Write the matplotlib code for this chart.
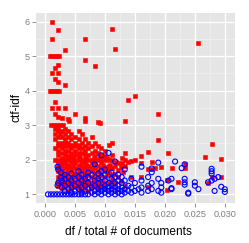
import matplotlib
matplotlib.use("Agg")
import matplotlib.pyplot as plt

# red squares: terms (ctf-idf vs df / total # of documents)
red_x = [
    0.0011, 0.0022, 0.0011, 0.0067, 0.0111, 0.0117, 0.0033, 0.0256,
    0.0008, 0.0012, 0.0016, 0.0020, 0.0024,
    0.0067, 0.0083, 0.0022, 0.0017, 0.0011, 0.0022, 0.0017, 0.0022, 0.0033,
    0.0008, 0.0012, 0.0016, 0.0020, 0.0024,
    0.0150, 0.0139, 0.0017, 0.0011, 0.0022, 0.0033, 0.0017, 0.0189, 0.0050,
    0.0022, 0.0028, 0.0039, 0.0067, 0.0067, 0.0133, 0.0092, 0.0089, 0.0040,
    0.0010, 0.0015, 0.0020, 0.0025, 0.0030,
    0.0017, 0.0022, 0.0033,
    0.0022, 0.0028, 0.0039, 0.0056,
    0.0017, 0.0025, 0.0033, 0.0044, 0.0061,
    0.0022, 0.0028, 0.0039, 0.0050, 0.0078,
    0.0017, 0.0033, 0.0044, 0.0056, 0.0067, 0.0189,
    0.0022, 0.0028, 0.0033, 0.0039, 0.0050, 0.0061, 0.0072, 0.0083, 0.0111,
    0.0028, 0.0044, 0.0056, 0.0106, 0.0278,
    0.0022, 0.0033, 0.0039, 0.0050, 0.0067, 0.0078, 0.0089,
    0.0017, 0.0028, 0.0044, 0.0056, 0.0061, 0.0072, 0.0094,
    0.0022, 0.0033, 0.0039, 0.0050, 0.0067, 0.0083, 0.0100, 0.0172,
    0.0028, 0.0044, 0.0056, 0.0061, 0.0078, 0.0089, 0.0133, 0.0206,
    0.0022, 0.0033, 0.0050, 0.0067, 0.0072, 0.0094, 0.0111,
    0.0039, 0.0044, 0.0056, 0.0083, 0.0100, 0.0161, 0.0267, 0.0128,
    0.0028, 0.0036, 0.0047, 0.0058, 0.0069, 0.0081, 0.0092, 0.0103,
    0.0017, 0.0022, 0.0028, 0.0033, 0.0039, 0.0044, 0.0050, 0.0056, 0.0061,
    0.0067, 0.0072, 0.0078, 0.0083, 0.0089, 0.0094, 0.0100, 0.0106, 0.0111,
    0.0133, 0.0150, 0.0294,
    0.0028, 0.0044, 0.0061, 0.0078, 0.0094, 0.0119, 0.0139, 0.0144, 0.0178,
    0.0022, 0.0033, 0.0050, 0.0067, 0.0083, 0.0122, 0.0128, 0.0161, 0.0233,
    0.0025, 0.0036, 0.0047, 0.0058, 0.0069, 0.0081, 0.0097, 0.0108,
    0.0028, 0.0039, 0.0056, 0.0072, 0.0089, 0.0106, 0.0117, 0.0133,
    0.0022, 0.0044, 0.0061, 0.0078, 0.0100, 0.0126, 0.0194,
    0.0033, 0.0050, 0.0067, 0.0083, 0.0094, 0.0111, 0.0183, 0.0212, 0.0234,
    0.0028, 0.0039, 0.0056, 0.0072, 0.0106, 0.0122, 0.0172, 0.0178,
    0.0022, 0.0044, 0.0061, 0.0078, 0.0089, 0.0100, 0.0130,
    0.0025, 0.0036, 0.0047, 0.0058, 0.0069, 0.0081, 0.0092, 0.0103,
    0.0033, 0.0050, 0.0067, 0.0083, 0.0111, 0.0117,
    0.0028, 0.0039, 0.0056, 0.0072, 0.0094, 0.0106,
    0.0022, 0.0033, 0.0044, 0.0050, 0.0061, 0.0078, 0.0089, 0.0100, 0.0122,
    0.0144, 0.0161, 0.0278, 0.0294,
    0.0028, 0.0039, 0.0056, 0.0067, 0.0083, 0.0111,
    0.0022, 0.0044, 0.0061, 0.0072, 0.0094, 0.0126, 0.0203, 0.0222,
    0.0025, 0.0036, 0.0047, 0.0058, 0.0081, 0.0097, 0.0114,
    0.0028, 0.0033, 0.0050, 0.0067, 0.0078, 0.0089, 0.0106, 0.0117, 0.0272,
    0.0039, 0.0056, 0.0072, 0.0100,
    0.0022, 0.0044, 0.0061, 0.0083, 0.0094, 0.0111, 0.0133,
    0.0033, 0.0050, 0.0067, 0.0078, 0.0172,
    0.0028, 0.0044, 0.0056, 0.0089, 0.0100, 0.0203,
    0.0039, 0.0061, 0.0072,
]
red_y = [
    6.00, 5.75, 5.50, 5.50, 5.80, 5.20, 5.17, 5.37,
    5.00, 5.00, 5.00, 5.00, 5.00,
    4.90, 4.73, 4.75, 4.67, 4.50, 4.50, 4.33, 4.25, 4.17,
    4.00, 4.00, 4.00, 4.00, 4.00,
    3.86, 3.73, 3.67, 3.50, 3.50, 3.50, 3.33, 3.33, 3.33,
    3.25, 3.20, 3.17, 3.20, 3.12, 3.12, 3.08, 3.10, 3.12,
    3.00, 3.00, 3.00, 3.00, 3.00,
    2.90, 2.90, 2.90,
    2.83, 2.83, 2.83, 2.83,
    2.75, 2.75, 2.75, 2.75, 2.75,
    2.67, 2.67, 2.67, 2.67, 2.67,
    2.60, 2.60, 2.60, 2.60, 2.60, 2.57,
    2.50, 2.50, 2.50, 2.50, 2.50, 2.50, 2.50, 2.50, 2.50,
    2.43, 2.43, 2.43, 2.42, 2.45,
    2.40, 2.40, 2.40, 2.40, 2.40, 2.40, 2.40,
    2.33, 2.33, 2.33, 2.33, 2.33, 2.33, 2.33,
    2.25, 2.25, 2.25, 2.25, 2.25, 2.25, 2.25, 2.23,
    2.20, 2.20, 2.20, 2.20, 2.20, 2.20, 2.21, 2.20,
    2.14, 2.14, 2.14, 2.14, 2.14, 2.14, 2.14,
    2.10, 2.10, 2.10, 2.10, 2.10, 2.11, 2.08, 2.06,
    2.05, 2.05, 2.05, 2.05, 2.05, 2.05, 2.05, 2.05,
    2.00, 2.00, 2.00, 2.00, 2.00, 2.00, 2.00, 2.00, 2.00,
    2.00, 2.00, 2.00, 2.00, 2.00, 2.00, 2.00, 2.00, 2.00,
    2.00, 2.00, 2.01,
    1.93, 1.93, 1.93, 1.93, 1.93, 1.95, 1.93, 1.96, 1.94,
    1.90, 1.90, 1.90, 1.90, 1.90, 1.90, 1.90, 1.90, 1.89,
    1.86, 1.86, 1.86, 1.86, 1.86, 1.86, 1.86, 1.86,
    1.83, 1.83, 1.83, 1.83, 1.83, 1.83, 1.83, 1.83,
    1.80, 1.80, 1.80, 1.80, 1.80, 1.80, 1.80,
    1.75, 1.75, 1.75, 1.75, 1.75, 1.75, 1.77, 1.76, 1.75,
    1.71, 1.71, 1.71, 1.71, 1.71, 1.71, 1.72, 1.72,
    1.67, 1.67, 1.67, 1.67, 1.67, 1.67, 1.65,
    1.63, 1.63, 1.63, 1.63, 1.63, 1.63, 1.63, 1.63,
    1.60, 1.60, 1.60, 1.60, 1.60, 1.60,
    1.57, 1.57, 1.57, 1.57, 1.57, 1.57,
    1.50, 1.50, 1.50, 1.50, 1.50, 1.50, 1.50, 1.50, 1.50,
    1.50, 1.50, 1.50, 1.50,
    1.44, 1.44, 1.44, 1.44, 1.44, 1.44,
    1.40, 1.40, 1.40, 1.40, 1.40, 1.40, 1.41, 1.36,
    1.37, 1.37, 1.37, 1.37, 1.37, 1.37, 1.37,
    1.33, 1.33, 1.33, 1.33, 1.33, 1.33, 1.33, 1.33, 1.32,
    1.29, 1.29, 1.29, 1.29,
    1.25, 1.25, 1.25, 1.25, 1.25, 1.25, 1.25,
    1.20, 1.20, 1.20, 1.20, 1.20,
    1.17, 1.17, 1.17, 1.17, 1.17, 1.12,
    1.10, 1.10, 1.10,
]

# blue open circles
blue_x = [
    0.0005, 0.0010, 0.0015, 0.0020, 0.0025, 0.0030, 0.0035, 0.0040, 0.0045,
    0.0050, 0.0056, 0.0061, 0.0067, 0.0072, 0.0083, 0.0094, 0.0106, 0.0117,
    0.0128, 0.0239,
    0.0044, 0.0061, 0.0078, 0.0089, 0.0100, 0.0111, 0.0122, 0.0133, 0.0144,
    0.0161, 0.0194, 0.0239, 0.0300,
    0.0033, 0.0050, 0.0067, 0.0083, 0.0094, 0.0106, 0.0117, 0.0128, 0.0139,
    0.0150, 0.0172, 0.0189, 0.0283,
    0.0039, 0.0056, 0.0072, 0.0089, 0.0100, 0.0111, 0.0122, 0.0133, 0.0156,
    0.0178, 0.0211, 0.0256, 0.0300,
    0.0028, 0.0044, 0.0061, 0.0078, 0.0094, 0.0106, 0.0117, 0.0128, 0.0144,
    0.0161, 0.0194, 0.0233, 0.0294,
    0.0021, 0.0033, 0.0050, 0.0067, 0.0083, 0.0100, 0.0111, 0.0122, 0.0139,
    0.0172, 0.0211, 0.0250,
    0.0022, 0.0039, 0.0056, 0.0072, 0.0089, 0.0106, 0.0117, 0.0128, 0.0150,
    0.0178, 0.0194, 0.0233, 0.0250, 0.0272,
    0.0028, 0.0044, 0.0061, 0.0083, 0.0100, 0.0122, 0.0133, 0.0161, 0.0206,
    0.0278,
    0.0033, 0.0050, 0.0067, 0.0089, 0.0111, 0.0144, 0.0189, 0.0211, 0.0233,
    0.0283,
    0.0027, 0.0039, 0.0056, 0.0072, 0.0094, 0.0117, 0.0128, 0.0172, 0.0289,
    0.0033, 0.0061, 0.0078, 0.0100, 0.0122,
    0.0044, 0.0089, 0.0278,
    0.0027, 0.0072, 0.0111, 0.0178,
    0.0056, 0.0094, 0.0278,
    0.0022, 0.0100, 0.0133,
    0.0178, 0.0228, 0.0278,
    0.0021, 0.0161,
    0.0083, 0.0233,
    0.0189,
    0.0117, 0.0217,
    0.0094,
    0.0106,
]
blue_y = [
    1.00, 1.00, 1.00, 1.00, 1.00, 1.00, 1.00, 1.00, 1.00,
    1.00, 1.00, 1.00, 1.00, 1.00, 1.00, 1.00, 1.00, 1.00,
    1.00, 1.02,
    1.05, 1.05, 1.05, 1.05, 1.05, 1.05, 1.05, 1.05, 1.05,
    1.05, 1.05, 1.05, 1.07,
    1.10, 1.10, 1.10, 1.10, 1.10, 1.10, 1.10, 1.10, 1.10,
    1.10, 1.10, 1.10, 1.10,
    1.15, 1.15, 1.15, 1.15, 1.15, 1.15, 1.15, 1.15, 1.15,
    1.15, 1.15, 1.15, 1.15,
    1.20, 1.20, 1.20, 1.20, 1.20, 1.20, 1.20, 1.20, 1.20,
    1.20, 1.20, 1.28, 1.22,
    1.26, 1.25, 1.25, 1.25, 1.25, 1.25, 1.25, 1.25, 1.25,
    1.25, 1.18, 1.25,
    1.33, 1.33, 1.33, 1.33, 1.33, 1.33, 1.33, 1.33, 1.33,
    1.33, 1.33, 1.35, 1.35, 1.35,
    1.40, 1.40, 1.40, 1.40, 1.40, 1.40, 1.40, 1.40, 1.40,
    1.40,
    1.45, 1.45, 1.45, 1.45, 1.45, 1.45, 1.45, 1.45, 1.45,
    1.45,
    1.48, 1.50, 1.50, 1.50, 1.50, 1.50, 1.50, 1.50, 1.50,
    1.57, 1.57, 1.57, 1.57, 1.57,
    1.60, 1.60, 1.60,
    1.63, 1.63, 1.63, 1.64,
    1.67, 1.67, 1.67,
    1.72, 1.72, 1.72,
    1.75, 1.76, 1.74,
    1.80, 1.80,
    1.87, 1.87,
    1.92,
    1.95, 1.95,
    2.13,
    2.20,
]

x_ticks = [0.000, 0.005, 0.010, 0.015, 0.020, 0.025, 0.030]
x_labels = ["0.000", "0.005", "0.010", "0.015", "0.020", "0.025", "0.030"]
y_ticks = [1, 2, 3, 4, 5, 6]

W, H = 249, 243
fig = plt.figure(figsize=(W / 100, H / 100), dpi=100)
fig.patch.set_facecolor("white")
ax = fig.add_axes([36 / W, (H - 203) / H, 199 / W, 190 / H])
ax.set_facecolor("#E5E5E5")

ax.scatter(red_x, red_y, marker="s", s=9, color="#FF0000", edgecolors="#FF0000",
           linewidths=0.4, zorder=3)
ax.scatter(blue_x, blue_y, marker="o", s=13, facecolors="none", edgecolors="#0000FF",
           linewidths=0.8, zorder=4)

ax.set_xlim(-0.0015, 0.0317)
ax.set_ylim(0.75, 6.25)

# ggplot-like grid: white major, lighter minor lines at midpoints
for v in x_ticks:
    ax.axvline(v, color="white", lw=0.9, zorder=1)
for v in [0.0025 + 0.005 * i for i in range(7)]:
    ax.axvline(v, color="#F2F2F2", lw=0.45, zorder=0.5)
for v in y_ticks:
    ax.axhline(v, color="white", lw=0.9, zorder=1)
for v in [0.5 + i for i in range(1, 7)]:
    ax.axhline(v, color="#F2F2F2", lw=0.45, zorder=0.5)

ax.set_xticks(x_ticks)
ax.set_xticklabels(x_labels)
ax.set_yticks(y_ticks)
for s in ax.spines.values():
    s.set_visible(False)
ax.tick_params(axis="both", length=3.2, width=0.6, color="#7F7F7F", labelcolor="#7F7F7F",
               labelsize=6.6, pad=1.5)
for t in ax.get_xticklabels() + ax.get_yticklabels():
    t.set_family("Liberation Sans")

fig.text(128.8 / W, 1 - 232 / H, "df / total # of documents", ha="center", va="center",
         fontsize=8.6, family="Liberation Sans")
fig.text(16 / W, 1 - 108 / H, "ctf-idf", ha="center", va="center", rotation=90,
         fontsize=8.6, family="Liberation Sans")

fig.savefig("out.png", dpi=100)
